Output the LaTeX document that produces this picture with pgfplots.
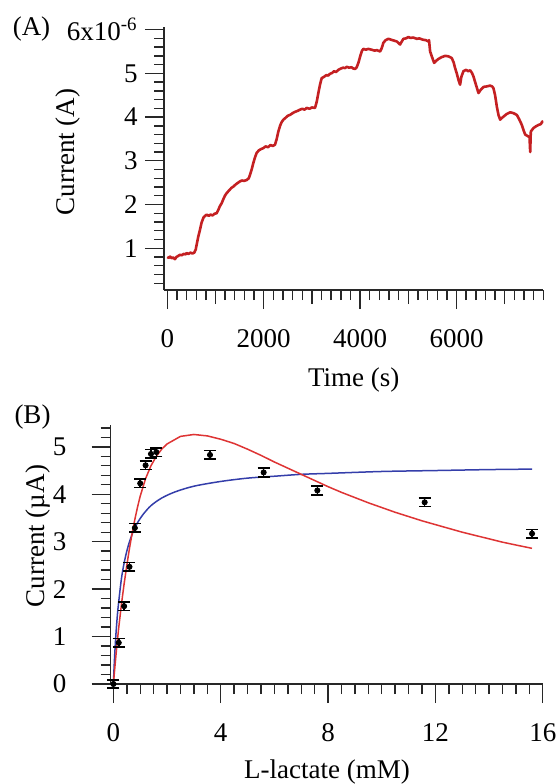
\documentclass[border=0pt]{standalone}
\usepackage{fontspec}
\setmainfont{Liberation Serif}
\usepackage{pgfplots}
\usepackage{pgfplotstable}
\pgfplotsset{compat=1.18}
\definecolor{tracered}{RGB}{196,32,34}
\definecolor{fitred}{RGB}{222,52,52}
\definecolor{fitblue}{RGB}{52,62,170}
\definecolor{axisgray}{RGB}{40,40,40}

\pgfplotstableread{
t v
0 0.80
30 0.78
60 0.81
90 0.77
120 0.79
160 0.75
190 0.80
220 0.82
264 0.85
300 0.84
340 0.87
380 0.86
402 0.89
440 0.87
480 0.90
520 0.88
560 0.90
590 0.97
609 1.08
640 1.25
678 1.42
710 1.58
750 1.70
782 1.74
820 1.77
860 1.74
900 1.77
940 1.75
980 1.79
1024 1.80
1060 1.88
1090 1.96
1128 2.03
1170 2.14
1200 2.21
1232 2.26
1280 2.32
1330 2.38
1370 2.41
1420 2.46
1470 2.50
1509 2.53
1550 2.55
1590 2.54
1647 2.56
1690 2.60
1716 2.68
1750 2.80
1785 2.95
1820 3.08
1854 3.18
1900 3.24
1950 3.27
1993 3.29
2040 3.33
2090 3.31
2140 3.36
2190 3.34
2235 3.37
2270 3.50
2304 3.67
2340 3.80
2370 3.88
2408 3.94
2450 3.98
2500 4.03
2546 4.05
2600 4.09
2650 4.12
2700 4.14
2754 4.17
2800 4.19
2850 4.17
2892 4.21
2950 4.19
3000 4.22
3065 4.21
3100 4.35
3134 4.55
3170 4.75
3203 4.89
3250 4.92
3300 4.96
3340 4.95
3376 4.99
3420 5.01
3460 5.05
3500 5.03
3549 5.08
3600 5.11
3650 5.13
3690 5.12
3722 5.15
3770 5.13
3820 5.14
3860 5.11
3895 5.10
3930 5.14
3964 5.24
4010 5.42
4040 5.52
4068 5.56
4120 5.54
4170 5.56
4241 5.54
4300 5.52
4350 5.53
4414 5.50
4450 5.58
4483 5.70
4530 5.76
4587 5.79
4640 5.77
4700 5.75
4760 5.73
4800 5.69
4829 5.66
4860 5.72
4898 5.79
4950 5.80
5002 5.83
5050 5.81
5100 5.82
5175 5.79
5230 5.80
5300 5.77
5360 5.76
5417 5.73
5430 5.76
5452 5.50
5490 5.38
5535 5.24
5580 5.29
5625 5.33
5690 5.37
5763 5.40
5830 5.39
5901 5.35
5940 5.25
5971 5.12
6010 4.98
6040 4.85
6074 4.74
6100 4.92
6144 5.05
6200 5.08
6240 5.05
6282 5.07
6320 5.01
6351 4.93
6400 4.75
6455 4.55
6500 4.62
6559 4.69
6620 4.70
6697 4.72
6740 4.70
6766 4.66
6800 4.50
6836 4.24
6870 4.05
6905 3.94
6940 3.98
6974 4.01
7040 4.07
7112 4.11
7180 4.09
7251 4.05
7300 3.95
7355 3.82
7390 3.70
7424 3.60
7470 3.57
7514 3.54
7528 3.20
7541 3.67
7597 3.75
7650 3.79
7700 3.82
7750 3.84
7780 3.90
7790 3.86
}\traceA

\pgfplotstableread{
x y e
0 0 0.09
0.2 0.87 0.09
0.4 1.64 0.09
0.6 2.47 0.09
0.8 3.29 0.09
1.0 4.23 0.09
1.2 4.61 0.09
1.4 4.85 0.09
1.6 4.89 0.09
3.6 4.83 0.09
5.6 4.46 0.09
7.6 4.08 0.09
11.6 3.83 0.09
15.6 3.17 0.09
}\pointsB

\pgfplotstableread{
x y
0 0
0.025 0.33
0.05 0.62
0.075 0.87
0.1 1.09
0.15 1.46
0.2 1.74
0.3 2.22
0.4 2.55
0.5 2.80
0.6 3.00
0.75 3.23
0.9 3.40
1.1 3.57
1.4 3.76
1.8 3.92
2.3 4.05
3.0 4.17
4.0 4.27
5.0 4.34
6.0 4.38
7.0 4.42
8.0 4.44
10 4.48
12 4.50
14 4.52
15.6 4.53
}\blueB

\pgfplotstableread{
x y
0 0
0.05 0.32
0.1 0.63
0.15 0.92
0.2 1.19
0.3 1.68
0.4 2.11
0.5 2.50
0.6 2.86
0.7 3.18
0.8 3.47
0.9 3.73
1.0 3.96
1.2 4.33
1.4 4.60
1.6 4.80
1.8 4.95
2.0 5.06
2.5 5.22
3.0 5.26
3.5 5.23
4.0 5.16
4.5 5.07
5.0 4.95
5.5 4.82
6.0 4.68
6.5 4.55
7.0 4.42
7.5 4.29
8.0 4.16
8.5 4.04
9.0 3.93
9.5 3.82
10 3.72
10.5 3.62
11 3.53
11.5 3.44
12 3.36
12.5 3.28
13 3.20
13.5 3.13
14 3.06
14.5 2.99
15 2.93
15.6 2.86
}\redB

\pgfplotsset{
  myaxis/.style={
    scale only axis, anchor=south west,
    axis x line*=bottom, axis y line*=left,
    axis line style={-, line width=0.7pt, draw=axisgray},
    tick style={line width=0.7pt, draw=axisgray},
    tick align=outside,
    major tick length=9.5pt, minor tick length=5pt,
    tick label style={font=\fontsize{13.5}{15}\selectfont, text=black},
    label style={font=\fontsize{13.5}{15}\selectfont},
    xticklabel style={yshift=-5.5pt},
    /pgf/number format/assume math mode=true,
    scaled ticks=false,
    every axis x label/.style={anchor=center},
    every axis y label/.style={anchor=center, rotate=90},
  },
  panelA/.style={myaxis, at={(82pt,247pt)}, width=189.65pt, height=131.5pt,
    xmin=-68, xmax=7800, ymin=0.045, ymax=6.06},
}

\begin{document}
\fontsize{13.5}{15}\selectfont
\begin{tikzpicture}
\useasboundingbox (0,0) rectangle (279pt,392pt);

% medium ticks of panel A (1000, 3000, 5000, 7000 s)
\begin{axis}[panelA, axis y line=none,
  xtick={1000,3000,5000,7000}, xticklabels={}, major tick length=7pt]
\end{axis}
% minor ticks of the y axis of panel A
\begin{axis}[panelA, axis x line=none,
  ytick={0.2,0.4,0.6,0.8,1.2,1.4,1.6,1.8,2.2,2.4,2.6,2.8,3.2,3.4,3.6,3.8,4.2,4.4,4.6,4.8,5.2,5.4,5.6,5.8},
  yticklabels={}, major tick length=5pt]
\end{axis}

\begin{axis}[panelA,
  xtick={0,2000,4000,6000}, xticklabels={0,2000,4000,6000},
  minor xtick={200,400,...,7800},
  ytick={1,2,3,4,5,6}, yticklabels={1,2,3,4,5,{6x10\textsuperscript{-6}}},
  yticklabel style={xshift=1pt},
  xlabel={Time (s)}, ylabel={Current (A)},
  xlabel style={at={(axis description cs:0.5,-0.342)}},
  ylabel style={at={(axis description cs:-0.253,0.525)}},
]
\addplot[tracered, line width=1.3pt, line join=round] table[x=t, y=v] {\traceA};
\end{axis}

\begin{axis}[myaxis, at={(55.35pt,50pt)}, width=216.3pt, height=129.5pt,
  xmin=-0.1, xmax=16.02, ymin=0, ymax=5.46, clip=false,
  xtick={0,4,8,12,16},
  minor xtick={0.5,1,...,15.5},
  ytick={0,1,2,3,4,5},
  minor ytick={0.2,0.4,0.6,0.8,1.2,1.4,1.6,1.8,2.2,2.4,2.6,2.8,3.2,3.4,3.6,3.8,4.2,4.4,4.6,4.8,5.2,5.4},
  yticklabel style={xshift=-8pt},
  xlabel={L-lactate (mM)}, ylabel={Current (µA)},
  xlabel style={at={(axis description cs:0.5,-0.34)}},
  ylabel style={at={(axis description cs:-0.169,0.571)}},
]
\addplot[fitblue, line width=0.75pt, smooth] table[x=x, y=y] {\blueB};
\addplot[fitred, line width=0.75pt] table[x=x, y=y] {\redB};
\addplot[only marks, mark=*, mark size=1.3pt, black,
  error bars/.cd, y dir=both, y explicit,
  error bar style={line width=0.8pt, black},
  error mark options={rotate=90, mark size=3pt, line width=0.8pt, black}]
  table[x=x, y=y, y error=e] {\pointsB};
\end{axis}

\node[font=\fontsize{13.5}{15}\selectfont] at (15.75pt,377.5pt) {(A)};
\node[font=\fontsize{13.5}{15}\selectfont] at (16.25pt,183.5pt) {(B)};
\end{tikzpicture}
\end{document}
